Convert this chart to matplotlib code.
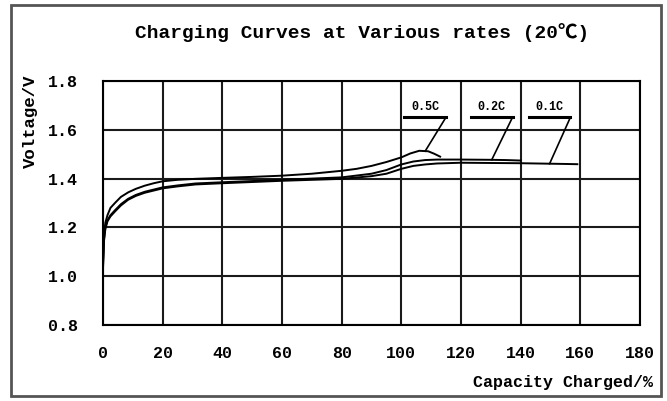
import numpy as np
import matplotlib
matplotlib.use("Agg")
import matplotlib.pyplot as plt
from matplotlib.patches import Rectangle

plt.rcParams['font.family'] = ['Liberation Mono', 'DejaVu Sans Mono', 'Noto Sans CJK SC']
plt.rcParams['font.weight'] = 'bold'

# ---- data ----
cap_05 = [0, 0.3, 0.8, 1.5, 2.5, 4, 6, 8.5, 11, 14, 17, 20, 25, 31, 40, 50, 60, 70, 80, 85, 90, 95, 100, 103, 106, 109, 111, 113]
volt_05 = [1.06, 1.17, 1.22, 1.25, 1.28, 1.30, 1.325, 1.344, 1.358, 1.371, 1.381, 1.389, 1.395, 1.399, 1.403, 1.407, 1.412, 1.42, 1.432, 1.44, 1.452, 1.468, 1.487, 1.503, 1.514, 1.512, 1.502, 1.49]

cap_02 = [0, 0.3, 0.8, 1.5, 2.5, 4, 6, 8.4, 11, 14, 17, 20, 25, 31, 40, 50, 60, 70, 80, 90, 95, 100, 104, 108, 112, 120, 130, 135, 140]
volt_02 = [1.04, 1.15, 1.20, 1.23, 1.25, 1.27, 1.295, 1.317, 1.333, 1.346, 1.355, 1.364, 1.372, 1.38, 1.385, 1.39, 1.395, 1.40, 1.405, 1.42, 1.435, 1.458, 1.47, 1.476, 1.478, 1.478, 1.477, 1.476, 1.474]

cap_01 = [0, 0.3, 0.8, 1.5, 2.5, 4, 6, 8.4, 11, 14, 17, 20, 25, 31, 40, 50, 60, 70, 80, 90, 95, 100, 104, 108, 112, 120, 130, 140, 150, 155, 159]
volt_01 = [1.03, 1.14, 1.195, 1.225, 1.245, 1.265, 1.29, 1.313, 1.329, 1.342, 1.351, 1.36, 1.368, 1.376, 1.381, 1.386, 1.391, 1.395, 1.399, 1.41, 1.42, 1.44, 1.452, 1.458, 1.462, 1.465, 1.464, 1.463, 1.461, 1.46, 1.459]

series_labels = ['0.5C', '0.2C', '0.1C']
label_caps = [108, 130.3, 149.7]   # capacity where each label's leader meets its curve

x_ticks = [0, 20, 40, 60, 80, 100, 120, 140, 160, 180]
y_ticks = [0.8, 1.0, 1.2, 1.4, 1.6, 1.8]
y_tick_labels = ['0.8', '1.0', '1.2', '1.4', '1.6', '1.8']

title = 'Charging Curves at Various rates (20℃)'
x_label = 'Capacity Charged/%'
y_label = 'Voltage/V'

# ---- figure ----
fig = plt.figure(figsize=(6.67, 4.01), dpi=100)
fig.patches.append(Rectangle((11/667, 5/401), 650/667, 391/401, transform=fig.transFigure,
                             fill=False, edgecolor='#555555', linewidth=2))
ax = fig.add_axes([103/667, 1-325/401, 537/667, 244/401])

caps = [cap_05, cap_02, cap_01]
volts = [volt_05, volt_02, volt_01]
for c, v in zip(caps, volts):
    ax.plot(c, v, color='black', linewidth=1.4, solid_joinstyle='round')

ax.set_xlim(0, 180)
ax.set_ylim(0.8, 1.8)
ax.set_xticks(x_ticks)
ax.set_yticks(y_ticks)
ax.set_yticklabels(y_tick_labels)
ax.tick_params(length=0, labelsize=12)
ax.tick_params(axis='y', pad=18)
ax.tick_params(axis='x', pad=15)
for lab in ax.get_xticklabels() + ax.get_yticklabels():
    lab.set_fontweight('bold')
ax.grid(True, color='#1a1a1a', linewidth=1.5)
ax.set_axisbelow(True)
for s in ax.spines.values():
    s.set_linewidth(1.5)
    s.set_color('black')

# annotations
for lab, lc, c, v in zip(series_labels, label_caps, caps, volts):
    yv = np.interp(lc, c, v)
    ex, ey = lc + 7, 1.652
    ax.plot([lc, ex], [yv, ey], color='black', linewidth=1.2)
    ax.plot([ex - 14, ex], [ey, ey], color='black', linewidth=2.2)
    ax.text(ex - 7, ey + 0.015, lab, ha='center', va='bottom', fontsize=8.5, fontweight='bold')

fig.text(0.543, 1-33/401, title, ha='center', va='center', fontsize=14, fontweight='bold')
fig.text(653/667, 1-383/401, x_label, ha='right', va='center', fontsize=12, fontweight='bold')
fig.text(30/667, 1-121/401, y_label, ha='center', va='center', rotation=90, fontsize=12.5, fontweight='bold')

fig.savefig('out.png', dpi=100, facecolor='white')
